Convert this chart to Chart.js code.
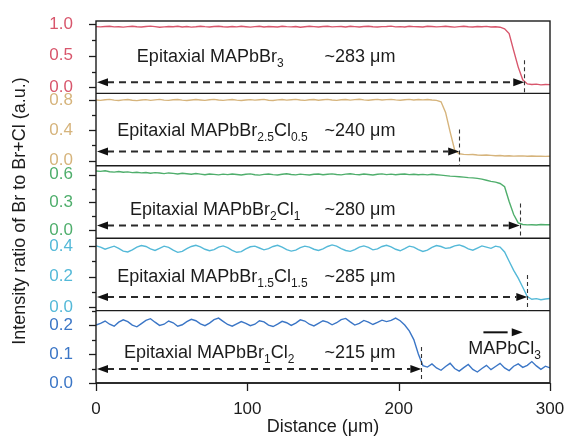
<!DOCTYPE html>
<html>
<head>
<meta charset="utf-8">
<script src="https://cdn.jsdelivr.net/npm/chart.js@4.4.1/dist/chart.umd.min.js"></script>
<style>
  html, body { margin: 0; padding: 0; background: #fff; }
  #wrap { width: 568px; height: 438px; }
</style>
</head>
<body>
<div id="wrap"><canvas id="profileChart" width="568" height="438"></canvas></div>
<script>
/* ── DATA ───────────────────────────────────── */
const distance = [
  0, 3, 6, 9, 12, 15, 18, 21, 24, 27,
  30, 33, 36, 39, 42, 45, 48, 51, 54, 57,
  60, 63, 66, 69, 72, 75, 78, 81, 84, 87,
  90, 93, 96, 99, 102, 105, 108, 111, 114, 117,
  120, 123, 126, 129, 132, 135, 138, 141, 144, 147,
  150, 153, 156, 159, 162, 165, 168, 171, 174, 177,
  180, 183, 186, 189, 192, 195, 198, 201, 204, 207,
  210, 213, 216, 219, 222, 225, 228, 231, 234, 237,
  240, 243, 246, 249, 252, 255, 258, 261, 264, 267,
  270, 273, 276, 279, 282, 285, 288, 291, 294, 297, 300
];

// MAPbBr3
const ratioBr3 = [
  0.960, 0.955, 0.962, 0.966, 0.955, 0.958, 0.951, 0.960, 0.965, 0.958,
  0.954, 0.961, 0.967, 0.959, 0.950, 0.956, 0.962, 0.958, 0.966, 0.953,
  0.960, 0.952, 0.957, 0.966, 0.959, 0.954, 0.961, 0.965, 0.958, 0.953,
  0.962, 0.955, 0.966, 0.958, 0.951, 0.960, 0.964, 0.954, 0.961, 0.958,
  0.953, 0.965, 0.959, 0.955, 0.962, 0.950, 0.958, 0.966, 0.960, 0.954,
  0.961, 0.966, 0.955, 0.959, 0.962, 0.953, 0.965, 0.960, 0.954, 0.961,
  0.966, 0.958, 0.953, 0.960, 0.962, 0.967, 0.955, 0.959, 0.953, 0.964,
  0.960, 0.957, 0.953, 0.966, 0.961, 0.955, 0.959, 0.964, 0.958, 0.952,
  0.960, 0.965, 0.958, 0.954, 0.961, 0.957, 0.963, 0.953, 0.958, 0.950,
  0.925, 0.850, 0.580, 0.320, 0.120, 0.055, 0.045, 0.052, 0.040, 0.046, 0.044
];

// MAPbBr2.5Cl0.5
const ratioBr25 = [
  0.805, 0.800, 0.808, 0.812, 0.803, 0.798, 0.806, 0.810, 0.801, 0.796,
  0.804, 0.809, 0.800, 0.806, 0.812, 0.803, 0.799, 0.807, 0.811, 0.802,
  0.797, 0.805, 0.810, 0.804, 0.799, 0.808, 0.813, 0.805, 0.800, 0.806,
  0.811, 0.802, 0.797, 0.804, 0.809, 0.803, 0.807, 0.812, 0.801, 0.798,
  0.806, 0.810, 0.803, 0.808, 0.813, 0.804, 0.799, 0.807, 0.811, 0.802,
  0.808, 0.812, 0.805, 0.800, 0.807, 0.811, 0.803, 0.809, 0.814, 0.806,
  0.801, 0.808, 0.812, 0.804, 0.809, 0.813, 0.806, 0.801, 0.808, 0.812,
  0.805, 0.810, 0.806, 0.811, 0.804, 0.800,
  0.780, 0.640, 0.380, 0.140, 0.090, 0.082, 0.078, 0.080, 0.074, 0.071,
  0.073, 0.068, 0.064, 0.066, 0.061, 0.063, 0.058, 0.060, 0.062, 0.057,
  0.060, 0.056, 0.058, 0.055, 0.057
];

// MAPbBr2Cl1
const ratioBr2 = [
  0.640, 0.636, 0.642, 0.632, 0.628, 0.634, 0.626, 0.630, 0.622, 0.627,
  0.620, 0.624, 0.616, 0.622, 0.618, 0.612, 0.619, 0.614, 0.608, 0.615,
  0.610, 0.605, 0.612, 0.606, 0.600, 0.608, 0.603, 0.598, 0.606, 0.601,
  0.607, 0.602, 0.596, 0.604, 0.609, 0.600, 0.595, 0.603, 0.608, 0.601,
  0.597, 0.605, 0.610, 0.602, 0.598, 0.606, 0.601, 0.596, 0.604, 0.608,
  0.600, 0.605, 0.609, 0.602, 0.598, 0.606, 0.610, 0.603, 0.599, 0.607,
  0.602, 0.597, 0.605, 0.609, 0.601, 0.606, 0.600, 0.604, 0.608, 0.601,
  0.605, 0.600, 0.603, 0.598, 0.604, 0.600, 0.595, 0.590, 0.585, 0.582,
  0.578, 0.574, 0.568, 0.566, 0.560, 0.552, 0.540, 0.528, 0.520, 0.505,
  0.470, 0.310, 0.170, 0.080, 0.062, 0.058, 0.060, 0.057, 0.062, 0.059, 0.060
];

// MAPbBr1.5Cl1.5
const ratioBr15 = [
  0.400, 0.392, 0.378, 0.388, 0.398, 0.384, 0.366, 0.360, 0.374, 0.392,
  0.402, 0.396, 0.380, 0.370, 0.384, 0.398, 0.390, 0.372, 0.358, 0.364,
  0.382, 0.396, 0.404, 0.394, 0.378, 0.368, 0.376, 0.392, 0.400, 0.388,
  0.370, 0.358, 0.362, 0.380, 0.394, 0.398, 0.386, 0.374, 0.382, 0.396,
  0.404, 0.392, 0.376, 0.366, 0.372, 0.388, 0.398, 0.392, 0.378, 0.370,
  0.380, 0.396, 0.406, 0.398, 0.382, 0.370, 0.364, 0.376, 0.392, 0.400,
  0.390, 0.374, 0.380, 0.396, 0.404, 0.394, 0.378, 0.368, 0.382, 0.398,
  0.392, 0.376, 0.364, 0.372, 0.390, 0.402, 0.396, 0.384, 0.388, 0.400,
  0.406, 0.396, 0.380, 0.372, 0.386, 0.400, 0.392, 0.384, 0.398, 0.392,
  0.360, 0.300, 0.240, 0.190, 0.130, 0.070, 0.052, 0.056, 0.049, 0.054, 0.057
];

// MAPbBr1Cl2
const ratioBr1 = [
  0.200, 0.206, 0.214, 0.203, 0.196, 0.210, 0.218, 0.212, 0.200, 0.194,
  0.205, 0.216, 0.222, 0.210, 0.199, 0.203, 0.214, 0.208, 0.196, 0.201,
  0.212, 0.220, 0.215, 0.204, 0.198, 0.207, 0.219, 0.224, 0.213, 0.202,
  0.196, 0.204, 0.212, 0.206, 0.198, 0.203, 0.215, 0.211, 0.200, 0.195,
  0.203, 0.213, 0.208, 0.199, 0.207, 0.218, 0.214, 0.203, 0.197, 0.206,
  0.215, 0.210, 0.201, 0.208, 0.219, 0.223, 0.211, 0.200, 0.206, 0.216,
  0.210, 0.202, 0.209, 0.217, 0.212, 0.216, 0.224, 0.215, 0.200, 0.180,
  0.150, 0.100, 0.060, 0.055, 0.066, 0.052, 0.044, 0.057, 0.068, 0.050,
  0.041, 0.053, 0.064, 0.047, 0.038, 0.050, 0.061, 0.046, 0.057, 0.068,
  0.052, 0.043, 0.058, 0.066, 0.054, 0.061, 0.074, 0.059, 0.047, 0.058, 0.052
];

// panels, top to bottom
const panelSeries   = [ratioBr3, ratioBr25, ratioBr2, ratioBr15, ratioBr1];
const panelNames    = ['Epitaxial MAPbBr_{3}', 'Epitaxial MAPbBr_{2.5}Cl_{0.5}', 'Epitaxial MAPbBr_{2}Cl_{1}',
                       'Epitaxial MAPbBr_{1.5}Cl_{1.5}', 'Epitaxial MAPbBr_{1}Cl_{2}'];
const edgeDistance  = [283, 240, 280, 285, 215];
const panelMin      = [-0.095, -0.07, -0.086, -0.022, 0];
const panelMax      = [1.048, 0.892, 0.696, 0.45, 0.25];
const panelStep     = [0.5, 0.4, 0.3, 0.2, 0.1];

/* ── STYLE ──────────────────────────────────── */
const FONT = '"Liberation Sans", Arial, sans-serif';
const INK = '#1c1c1c';
const panelColors = ['#d8566c', '#d6b47c', '#4fae6c', '#54b9d8', '#3b76c6'];
const arrowLevel  = [0.08, 0.12, 0.05, 0.066, 0.048];   // y of dashed arrow (panel units)
const labelAt     = [[27, 0.40], [14, 0.32], [22.5, 0.166], [14, 0.165], [18.5, 0.0875]];
const edgeTextX   = 151;

/* ── HELPERS ────────────────────────────────── */
function drawRich(ctx, text, x, y) {
    const parts = text.split(/(_\{[^}]*\})/).filter(Boolean);
    let cx = x;
    parts.forEach(p => {
        if (p.startsWith('_{')) {
            ctx.font = `12px ${FONT}`;
            const t = p.slice(2, -1);
            ctx.fillText(t, cx, y + 5);
            cx += ctx.measureText(t).width;
        } else {
            ctx.font = `18px ${FONT}`;
            ctx.fillText(p, cx, y);
            cx += ctx.measureText(p).width;
        }
    });
}

function arrowHead(ctx, x, y, dir) {
    ctx.beginPath();
    ctx.moveTo(x, y);
    ctx.lineTo(x - dir * 11, y - 4);
    ctx.lineTo(x - dir * 11, y + 4);
    ctx.closePath();
    ctx.fill();
}

/* ── PLUGIN: frame, ticks, annotations ──────── */
const decorPlugin = {
    id: 'decor',
    afterDraw(chart) {
        const ctx = chart.ctx;
        const xs = chart.scales.x;
        const area = chart.chartArea;
        ctx.save();

        // panel frames
        ctx.strokeStyle = INK;
        ctx.lineWidth = 1.4;
        ctx.setLineDash([]);
        ctx.strokeRect(area.left, area.top, area.right - area.left, area.bottom - area.top);
        panelSeries.forEach((_, i) => {
            const ys = chart.scales['y' + i];
            ctx.beginPath();
            ctx.moveTo(area.left, ys.bottom);
            ctx.lineTo(area.right, ys.bottom);
            ctx.stroke();
        });

        // y ticks (major + minor)
        ctx.lineWidth = 1.3;
        panelSeries.forEach((_, i) => {
            const ys = chart.scales['y' + i];
            const half = panelStep[i] / 2;
            for (let k = 0; k * half <= panelMax[i] + 1e-9; k++) {
                const py = Math.round(ys.getPixelForValue(k * half)) + 0.5;
                const len = k % 2 === 0 ? 7 : 4;
                ctx.beginPath();
                ctx.moveTo(area.left - len, py);
                ctx.lineTo(area.left, py);
                ctx.stroke();
            }
        });

        // x ticks
        [0, 100, 200, 300].forEach(v => {
            const px = Math.round(xs.getPixelForValue(v)) + 0.5;
            ctx.beginPath();
            ctx.moveTo(px, area.bottom);
            ctx.lineTo(px, area.bottom + 8);
            ctx.stroke();
        });

        // annotations
        ctx.fillStyle = INK;
        ctx.textBaseline = 'alphabetic';
        ctx.textAlign = 'left';
        panelSeries.forEach((_, i) => {
            const ys = chart.scales['y' + i];
            const ay = ys.getPixelForValue(arrowLevel[i]);
            const x0 = xs.getPixelForValue(0);
            const x1 = xs.getPixelForValue(edgeDistance[i]);

            // dashed arrow
            ctx.strokeStyle = '#2a2a2a';
            ctx.lineWidth = 2;
            ctx.setLineDash([7, 5]);
            ctx.beginPath();
            ctx.moveTo(x0 + 11, ay);
            ctx.lineTo(x1 - 11, ay);
            ctx.stroke();
            ctx.setLineDash([]);
            ctx.fillStyle = '#111';
            arrowHead(ctx, x0 + 1, ay, -1);
            arrowHead(ctx, x1, ay, 1);

            // thin vertical marker
            ctx.strokeStyle = '#333';
            ctx.lineWidth = 1.1;
            ctx.setLineDash([4, 3]);
            ctx.beginPath();
            ctx.moveTo(Math.round(x1) + 0.5, ay - 22);
            ctx.lineTo(Math.round(x1) + 0.5, ys.bottom);
            ctx.stroke();
            ctx.setLineDash([]);

            // texts
            ctx.fillStyle = INK;
            const lp = labelAt[i];
            drawRich(ctx, panelNames[i], xs.getPixelForValue(lp[0]), ys.getPixelForValue(lp[1]));
            ctx.font = `18px ${FONT}`;
            ctx.fillText(`~${edgeDistance[i]} μm`, xs.getPixelForValue(edgeTextX), ys.getPixelForValue(lp[1]));
        });

        // MAPbCl3 note in bottom panel
        const yb = chart.scales.y4;
        drawRich(ctx, 'MAPbCl_{3}', xs.getPixelForValue(246), yb.getPixelForValue(0.1));
        const ny = yb.getPixelForValue(0.175);
        ctx.strokeStyle = '#111';
        ctx.lineWidth = 2;
        ctx.beginPath();
        ctx.moveTo(xs.getPixelForValue(256), ny);
        ctx.lineTo(xs.getPixelForValue(272), ny);
        ctx.stroke();
        ctx.fillStyle = '#111';
        arrowHead(ctx, xs.getPixelForValue(282), ny, 1);

        // shared y title
        ctx.fillStyle = INK;
        ctx.font = `18px ${FONT}`;
        ctx.textAlign = 'center';
        ctx.textBaseline = 'middle';
        ctx.translate(20, (area.top + area.bottom) / 2 + 9);
        ctx.rotate(-Math.PI / 2);
        ctx.fillText('Intensity ratio of Br to Br+Cl (a.u.)', 0, 0);
        ctx.restore();
    }
};

/* ── CHART ──────────────────────────────────── */
const yScales = {};
panelSeries.forEach((_, i) => {
    yScales['y' + i] = {
        type: 'linear',
        position: 'left',
        stack: 'panels',
        stackWeight: 1,
        weight: 10 - i,
        min: panelMin[i],
        max: panelMax[i],
        grid: { display: false },
        border: { display: false },
        ticks: {
            stepSize: panelStep[i],
            includeBounds: false,
            autoSkip: false,
            color: panelColors[i],
            font: { size: 17, family: FONT },
            padding: 15,
            callback: v => v.toFixed(1)
        },
        afterFit(scale) {
            scale.width = 96;
            scale.paddingTop = 0;
            scale.paddingBottom = 0;
        }
    };
});

new Chart(document.getElementById('profileChart'), {
    type: 'line',
    data: {
        datasets: panelSeries.map((vals, i) => ({
            label: panelNames[i],
            data: distance.map((d, k) => ({ x: d, y: vals[k] })),
            yAxisID: 'y' + i,
            borderColor: panelColors[i],
            borderWidth: 1.4,
            pointRadius: 0,
            tension: 0,
            fill: false
        }))
    },
    options: {
        responsive: false,
        animation: false,
        devicePixelRatio: 1,
        layout: { padding: { top: 21, right: 18, bottom: 0, left: 0 } },
        plugins: { legend: { display: false }, tooltip: { enabled: false } },
        scales: {
            x: {
                type: 'linear',
                position: 'bottom',
                min: 0,
                max: 300,
                grid: { display: false },
                border: { display: false },
                ticks: {
                    stepSize: 100,
                    color: INK,
                    maxRotation: 0,
                    font: { size: 17, family: FONT },
                    padding: 8
                },
                title: {
                    display: true,
                    text: 'Distance (μm)',
                    color: INK,
                    font: { size: 18, family: FONT },
                    padding: { top: 0, bottom: 0 }
                },
                afterFit(scale) {
                    scale.height = 55;
                    scale.paddingLeft = 0;
                    scale.paddingRight = 0;
                }
            },
            ...yScales
        }
    },
    plugins: [decorPlugin]
});
</script>
</body>
</html>
